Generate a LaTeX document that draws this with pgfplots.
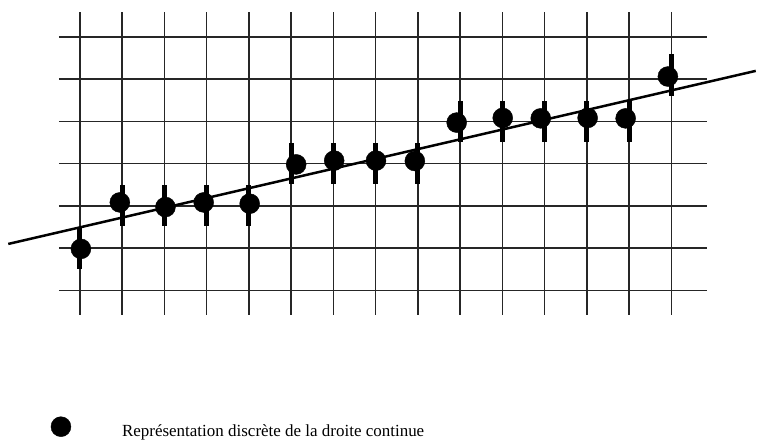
\documentclass[border=0pt]{standalone}
\usepackage{fontspec}
\setmainfont{Liberation Serif}
\usepackage{pgfplots}
\pgfplotsset{compat=1.18}
\begin{document}
\begin{tikzpicture}
\begin{axis}[
  x=42.3pt, y=42.3pt,
  xmin=-1.891, xmax=16.005, ymin=-3.435, ymax=6.872,
  hide axis, clip=false,
  legend style={at={(axis cs:-0.694,-3.27)}, anchor=west, draw=none, fill=none,
    inner sep=0pt, font=\fontsize{17}{20}\selectfont},
  legend image code/.code={\fill (10pt,5pt) circle (10pt); \path (0pt,0pt) (69pt,0pt);},
]
\path (rel axis cs:0,0) rectangle (rel axis cs:1,1);
% grid
\pgfplotsinvokeforeach{0,...,14}{
  \addplot[forget plot, black!85, line width=1.5pt] coordinates {(#1,-0.575) (#1,6.58)};
}
\pgfplotsinvokeforeach{0,...,6}{
  \addplot[forget plot, black!85, line width=1.5pt] coordinates {(-0.5,#1) (14.85,#1)};
}
% continuous line
\addplot[forget plot, black, line width=2.5pt] coordinates {(-1.695,1.097) (16.0,5.194)};
% error bars
\addplot[forget plot, black, only marks, mark=none,
  error bars/.cd, y dir=both, y fixed=0.49, error mark=none,
  error bar style={line width=5pt}] coordinates {
  (0,1) (1,2) (2,2) (3,2) (4,2) (5,3) (6,3) (7,3) (8,3)
  (9,4) (10,4) (11,4) (12,4) (13,4) (14,5.1)};
% discrete points
\addplot[black, only marks, mark=*, mark size=10pt] coordinates {
  (0.024,0.98) (0.946,2.08) (2.026,1.97) (2.931,2.08) (4.02,2.05)
  (5.12,2.98) (6.02,3.07) (7.01,3.07) (7.93,3.06) (8.92,3.97)
  (10.01,4.08) (10.91,4.07) (12.02,4.08) (12.92,4.07) (13.92,5.06)};
\addlegendentry{Représentation discrète de la droite continue}
\end{axis}
\end{tikzpicture}
\end{document}
